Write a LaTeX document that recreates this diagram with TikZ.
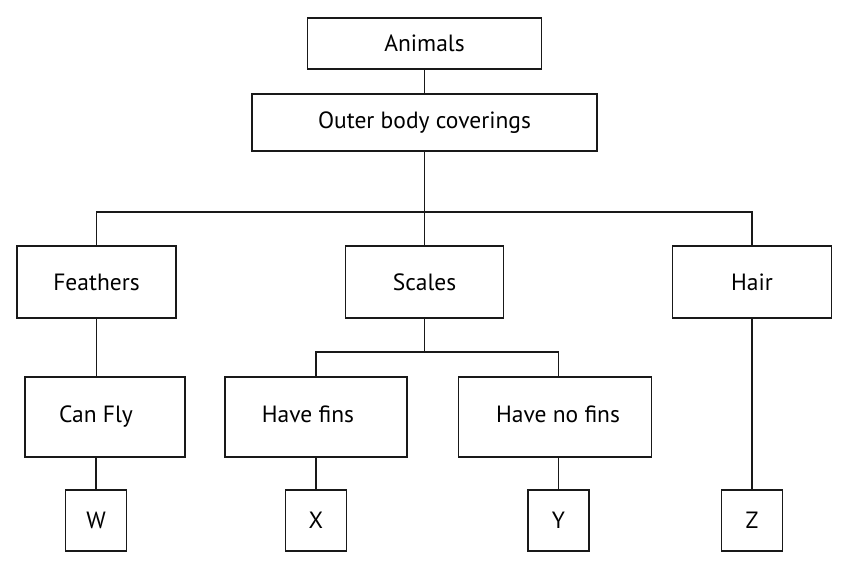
\documentclass[tikz,border=0pt]{standalone}
\usepackage{fontspec}
\setmainfont{PT Sans}
\usetikzlibrary{positioning}
\tikzset{
	box/.style={
		rectangle,
		draw=black!90,
		line width=1.3pt
	}
}

\begin{document}
\begin{tikzpicture}[x=1pt,y=-1pt]
		\tikzstyle{txt}=[font=\fontsize{23.5}{26}\selectfont]
		\tikzstyle{lbl}=[txt, text height=17pt, text depth=5pt, yshift=1pt]
		\tikzstyle{main}=[box, txt, inner sep=0pt]
		\tikzstyle{leaf}=[main, minimum width=61pt, minimum height=61pt]
		\tikzstyle{connect}=[draw=black!90, line width=1.3pt]
		\useasboundingbox (0,0) rectangle (850,570);
		\node[main, minimum width=234pt, minimum height=51pt] (animals) at (424.5,43.5) {Animals};
		\node[main, minimum width=345pt, minimum height=57pt] (outer) at (424.5,122.5) {Outer body coverings};
		
		\node[main, minimum width=159pt, minimum height=72pt] (feathers) at (96.5,282) {Feathers};
		\node[main, minimum width=158pt, minimum height=72pt] (scales) at (424.5,282) {Scales};
		\node[main, minimum width=159pt, minimum height=72pt] (hair) at (752,282) {Hair};
		
		\node[main, minimum width=160pt, minimum height=80pt, label={[lbl, xshift=-9pt]center:Can Fly}] (canfly) at (105,417) {};
		\node[main, minimum width=182pt, minimum height=80pt, label={[lbl, xshift=-8pt]center:Have fins}] (havefins) at (316,417) {};
		\node[main, minimum width=193pt, minimum height=80pt, label={[lbl, xshift=3pt]center:Have no fins}] (havenofins) at (555,417) {};
		
		\node[leaf] (w) at (96,520.5) {W};
		\node[leaf] (x) at (316,520.5) {X};
		\node[leaf] (y) at (558.5,520.5) {Y};
		\node[leaf] (z) at (752,520.5) {Z};
		
		\coordinate (bus) at (424.5,212);
		\coordinate (split) at (424.5,352);
		
		\path[connect]
		(animals) -- (outer)
		(outer.south) -- (bus)
		(feathers.north) |- (bus) -| (hair.north)
		(bus) -- (scales.north)
		(feathers.south) -- (feathers.south |- canfly.north)
		(w.north |- canfly.south) -- (w.north)
		(scales.south) -- (split)
		(x.north |- havefins.north) |- (split) -| (y.north |- havenofins.north)
		(x.north |- havefins.south) -- (x.north)
		(y.north |- havenofins.south) -- (y.north)
		(hair.south) -- (z.north)
		;
		
		\end{tikzpicture}
\end{document}
